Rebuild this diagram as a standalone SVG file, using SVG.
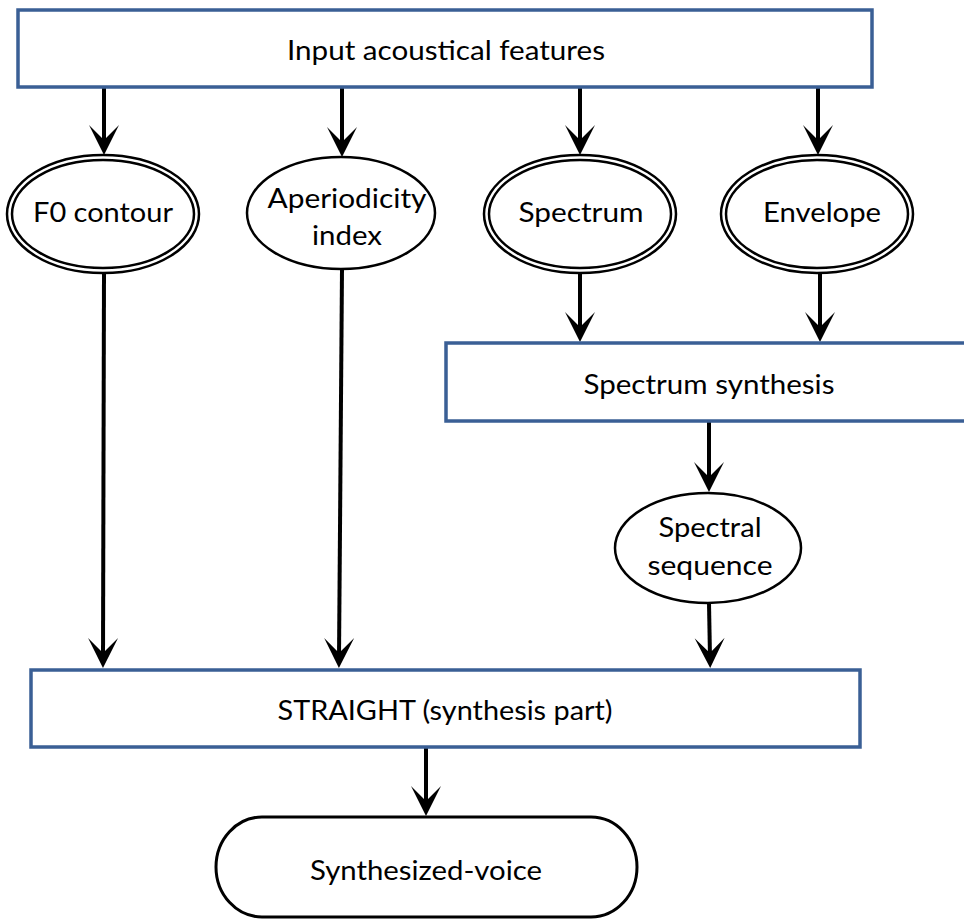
<svg xmlns="http://www.w3.org/2000/svg" width="964" height="920" viewBox="0 0 964 920">
  <style>
    .box { fill: #ffffff; stroke: #3a5f95; stroke-width: 3.5; }
    .ell { fill: #ffffff; stroke: #000000; stroke-width: 2.5; }
    .term { fill: #ffffff; stroke: #000000; stroke-width: 3; }
    .lbl { font-family: "Lato", "Liberation Sans", sans-serif; font-size: 27px; fill: #000000; text-anchor: middle; }
    .edge { stroke: #000000; stroke-width: 4; fill: none; marker-end: url(#arrow); }
  </style>
  <defs>
    <!-- barbed arrowhead; its tip sits 10px beyond the line end -->
    <marker id="arrow" markerUnits="userSpaceOnUse" viewBox="-32 -16 34 32" refX="-10" refY="0" markerWidth="34" markerHeight="32" orient="auto">
      <path d="M0,0 L-30,-15 L-17,-2 L-17,2 L-30,15 Z" fill="#000000"/>
    </marker>
  </defs>
  <rect width="964" height="920" fill="#ffffff"/>

  <!-- connectors -->
  <g id="connectors">
    <line class="edge" x1="104" y1="87" x2="104" y2="145"/>
    <line class="edge" x1="342" y1="87" x2="342" y2="147"/>
    <line class="edge" x1="580" y1="87" x2="580" y2="145"/>
    <line class="edge" x1="818" y1="87" x2="818" y2="145"/>
    <line class="edge" x1="580" y1="273" x2="580" y2="332"/>
    <line class="edge" x1="820" y1="273" x2="820" y2="332"/>
    <line class="edge" x1="709" y1="421" x2="709" y2="482"/>
    <line class="edge" x1="104" y1="273" x2="103" y2="658"/>
    <line class="edge" x1="342" y1="269" x2="339" y2="658"/>
    <line class="edge" x1="709" y1="603" x2="710" y2="658"/>
    <line class="edge" x1="426" y1="748" x2="426" y2="806"/>
  </g>

  <g id="input-features">
    <rect class="box" x="18" y="10" width="854" height="77"/>
    <text class="lbl" x="446" y="60" textLength="318" lengthAdjust="spacingAndGlyphs">Input acoustical features</text>
  </g>

  <g id="f0-contour">
    <ellipse class="ell" cx="103" cy="214" rx="96" ry="59"/>
    <ellipse class="ell" cx="103" cy="214" rx="91" ry="54"/>
    <text class="lbl" x="103" y="222" textLength="140" lengthAdjust="spacingAndGlyphs">F0 contour</text>
  </g>

  <g id="aperiodicity">
    <ellipse class="ell" cx="341" cy="213" rx="94" ry="56"/>
    <text class="lbl" x="347" y="208" textLength="159" lengthAdjust="spacingAndGlyphs">Aperiodicity</text>
    <text class="lbl" x="347" y="245" textLength="70" lengthAdjust="spacingAndGlyphs">index</text>
  </g>

  <g id="spectrum">
    <ellipse class="ell" cx="580" cy="214" rx="96" ry="59"/>
    <ellipse class="ell" cx="580" cy="214" rx="91" ry="54"/>
    <text class="lbl" x="581" y="222" textLength="125" lengthAdjust="spacingAndGlyphs">Spectrum</text>
  </g>

  <g id="envelope">
    <ellipse class="ell" cx="817" cy="214" rx="96" ry="59"/>
    <ellipse class="ell" cx="817" cy="214" rx="91" ry="54"/>
    <text class="lbl" x="822" y="222" textLength="118" lengthAdjust="spacingAndGlyphs">Envelope</text>
  </g>

  <g id="spectrum-synthesis">
    <rect class="box" x="446" y="343" width="530" height="78"/>
    <text class="lbl" x="709" y="394" textLength="251" lengthAdjust="spacingAndGlyphs">Spectrum synthesis</text>
  </g>

  <g id="spectral-sequence">
    <ellipse class="ell" cx="708" cy="548" rx="93" ry="55"/>
    <text class="lbl" x="710" y="537" textLength="103" lengthAdjust="spacingAndGlyphs">Spectral</text>
    <text class="lbl" x="710" y="575" textLength="125" lengthAdjust="spacingAndGlyphs">sequence</text>
  </g>

  <g id="straight">
    <rect class="box" x="31" y="670" width="829" height="77"/>
    <text class="lbl" x="445" y="720" textLength="335" lengthAdjust="spacingAndGlyphs">STRAIGHT (synthesis part)</text>
  </g>

  <g id="synthesized-voice">
    <rect class="term" x="216" y="817" width="421" height="100" rx="46" ry="50"/>
    <text class="lbl" x="426" y="880" textLength="232" lengthAdjust="spacingAndGlyphs">Synthesized-voice</text>
  </g>
</svg>
